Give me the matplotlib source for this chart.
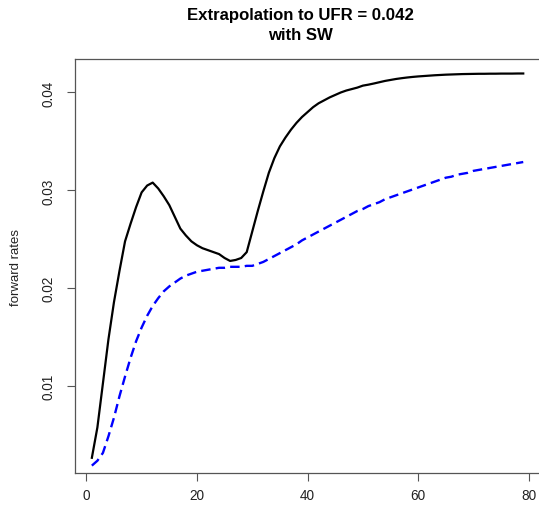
import matplotlib
matplotlib.use("Agg")
import matplotlib.pyplot as plt

plt.rcParams["font.family"] = ["Liberation Sans", "DejaVu Sans"]

maturity = list(range(1, 80))

fwd_observed = [
    0.0027, 0.0058, 0.0103, 0.0148, 0.0186, 0.0218, 0.0248, 0.0266, 0.0283, 0.0298,
    0.0305, 0.0308, 0.0302, 0.0294, 0.0285, 0.0273, 0.0261, 0.0254, 0.0248, 0.0244,
    0.0241, 0.0239, 0.0237, 0.0235, 0.0231, 0.0228, 0.0229, 0.0231, 0.0237, 0.0258,
    0.0279, 0.0299, 0.0318, 0.0333, 0.0345, 0.0354, 0.0362, 0.0369, 0.0375, 0.0380,
    0.0385, 0.0389, 0.0392, 0.0395, 0.03975, 0.0400, 0.0402, 0.04035, 0.0405, 0.0407,
    0.0408, 0.04092, 0.04105, 0.04118, 0.04128, 0.04138, 0.04146, 0.04153, 0.04159, 0.04164,
    0.04168, 0.04172, 0.04176, 0.04179, 0.04182, 0.04184, 0.04186, 0.04188, 0.04189, 0.0419,
    0.04191, 0.04191, 0.04192, 0.04192, 0.04193, 0.04193, 0.04193, 0.04194, 0.04194,
]

fwd_sw = [
    0.0019, 0.0024, 0.0032, 0.0049, 0.0068, 0.0090, 0.0110, 0.0129, 0.0146, 0.0160,
    0.0172, 0.0182, 0.0190, 0.0197, 0.0202, 0.0206, 0.0210, 0.0213, 0.0215, 0.0217,
    0.0218, 0.0219, 0.0220, 0.0221, 0.0221, 0.0222, 0.0222, 0.0222, 0.0223, 0.0223,
    0.0225, 0.0227, 0.0230, 0.0233, 0.0236, 0.0239, 0.0242, 0.0245, 0.0249, 0.0252,
    0.0255, 0.0258, 0.0261, 0.0264, 0.0267, 0.0270, 0.0273, 0.0276, 0.0279, 0.0281,
    0.0284, 0.0286, 0.0288, 0.0291, 0.0293, 0.0295, 0.0297, 0.0299, 0.0301, 0.0303,
    0.0305, 0.0307, 0.0309, 0.0311, 0.0313, 0.0314, 0.0316, 0.0317, 0.0318, 0.0320,
    0.0321, 0.0322, 0.0323, 0.0324, 0.0325, 0.0326, 0.0327, 0.0328, 0.0329,
]

x_ticks = [0, 20, 40, 60, 80]
y_ticks = [0.01, 0.02, 0.03, 0.04]
y_tick_labels = ["0.01", "0.02", "0.03", "0.04"]
title = "Extrapolation to UFR = 0.042\nwith SW"

W, H = 539, 506
fig = plt.figure(figsize=(W / 100, H / 100), dpi=100)
# plot box in pixels: left 74.6, right 540.5 (slightly off canvas), top 60, bottom 474
ax = fig.add_axes([74.6 / W, (H - 474) / H, (540.5 - 74.6) / W, (474 - 60) / H])

ax.plot(maturity, fwd_observed, color="black", lw=1.6)
sw_line, = ax.plot(maturity, fwd_sw, color="blue", lw=1.7)
sw_line.set_dashes([4, 2.2])

ax.set_xlim(-2.12, 82.12)
ax.set_ylim(0.001147, 0.04342)

ax.set_xticks(x_ticks)
ax.set_xticklabels([str(t) for t in x_ticks])
ax.set_yticks(y_ticks)
ax.set_yticklabels(y_tick_labels, rotation=90, va="center")
ax.tick_params(direction="out", length=6, width=0.8, color="#555555",
               labelsize=9.8, labelcolor="#222222")
ax.tick_params(axis="x", pad=5)
ax.tick_params(axis="y", pad=8)

for sp in ax.spines.values():
    sp.set_color("#555555")
    sp.set_linewidth(0.9)

ax.set_ylabel("forward rates", fontsize=9.5, color="#222222", labelpad=14)
fig.text(300 / W, 1 - 8 / H, title, ha="center", va="top",
         fontsize=12.1, fontweight="bold", linespacing=1.4)

fig.savefig("out.png", dpi=100)
